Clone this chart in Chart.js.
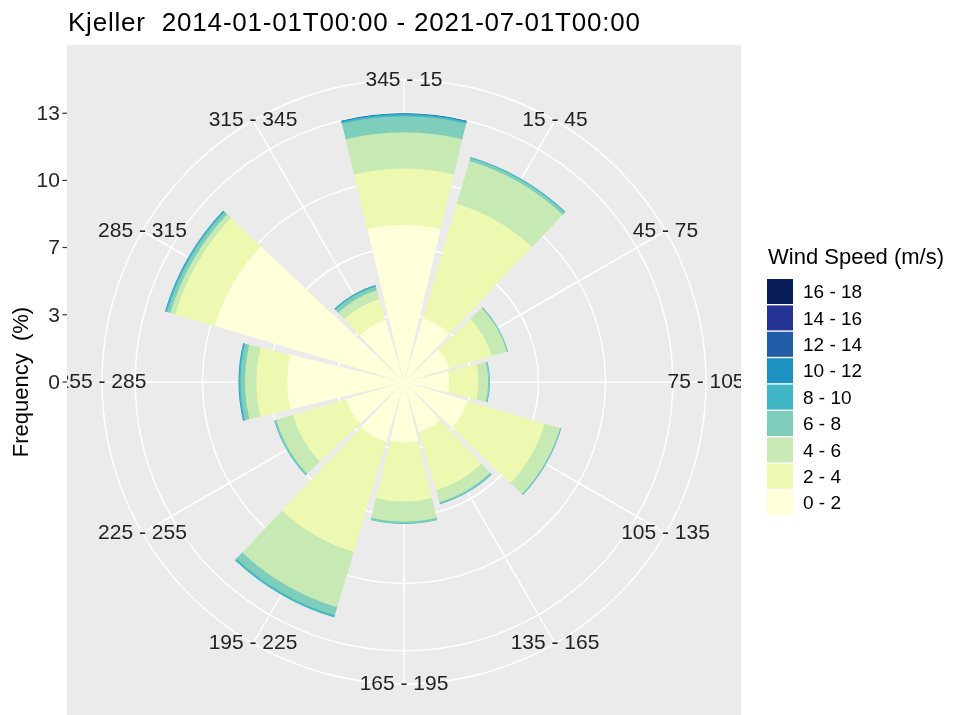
<!DOCTYPE html>
<html>
<head>
<meta charset="utf-8">
<title>Kjeller wind rose</title>
<script src="https://cdn.jsdelivr.net/npm/chart.js@4.4.1/dist/chart.umd.min.js"></script>
<style>
  html, body { margin: 0; padding: 0; background: #ffffff; }
  canvas { display: block; }
</style>
</head>
<body>
<canvas id="rose" width="954" height="715"></canvas>
<script>
// direction sectors, clockwise from north
const directions = ["345 - 15", "15 - 45", "45 - 75", "75 - 105", "105 - 135", "135 - 165",
                    "165 - 195", "195 - 225", "225 - 255", "255 - 285", "285 - 315", "315 - 345"];
const speedBins = ["0 - 2", "2 - 4", "4 - 6", "6 - 8", "8 - 10", "10 - 12", "12 - 14", "14 - 16", "16 - 18"];
const binColors = ["#FFFFD9", "#EDF8B1", "#C7E9B4", "#7FCDBB", "#41B6C4", "#1D91C0", "#225EA8", "#253494", "#081D58"];

// frequency (%) per direction, one array per speed bin
const freq0to2   = [7.80, 3.30, 2.35, 2.25, 3.30, 2.60, 3.00, 3.10, 3.00, 5.80, 9.80, 3.20];
const freq2to4   = [2.80, 5.94, 2.20, 1.45, 3.99, 3.00, 2.94, 5.70, 2.76, 1.53, 2.05, 1.10];
const freq4to6   = [1.80, 2.21, 0.78, 0.48, 0.79, 0.62, 1.00, 2.87, 0.86, 0.57, 0.25, 0.45];
const freq6to8   = [0.80, 0.15, 0.05, 0.07, 0.05, 0.08, 0.09, 0.43, 0.08, 0.22, 0.18, 0.20];
const freq8to10  = [0.10, 0.05, 0.01, 0.02, 0.02, 0.03, 0.02, 0.10, 0.03, 0.08, 0.08, 0.05];
const freq10to12 = [0.03, 0.00, 0.00, 0.00, 0.00, 0.00, 0.00, 0.00, 0.00, 0.02, 0.02, 0.02];
const freq12to14 = [0.02, 0.00, 0.00, 0.00, 0.00, 0.00, 0.00, 0.00, 0.00, 0.00, 0.00, 0.00];
const freq14to16 = [0.00, 0.00, 0.00, 0.00, 0.00, 0.00, 0.00, 0.00, 0.00, 0.00, 0.00, 0.00];
const freq16to18 = [0.00, 0.00, 0.00, 0.00, 0.00, 0.00, 0.00, 0.00, 0.00, 0.00, 0.00, 0.00];

// radial axis
const freqTicks = [0, 3.34, 6.68, 10.01, 13.35];
const freqTickLabels = ["0", "3", "7", "10", "13"];
const freqMax = 15;

const binSeries = [freq0to2, freq2to4, freq4to6, freq6to8, freq8to10, freq10to12, freq12to14, freq14to16, freq16to18];

// polar area whose arcs start at a base value (stacked rings)
class StackedRoseController extends Chart.PolarAreaController {
  updateElements(arcs, start, count, mode) {
    super.updateElements(arcs, start, count, mode);
    const scale = this._cachedMeta.rScale;
    const ds = this.getDataset();
    if (!ds.base) return;
    for (let i = start; i < start + count; i++) {
      if (!ds.data[i]) continue;
      // small overlap under the ring above so no seam shows
      const r0 = scale.getDistanceFromCenterForValue(ds.base[i]);
      arcs[i].innerRadius = Math.max(0, r0 - 1.5);
    }
  }
}
StackedRoseController.id = 'stackedRose';
StackedRoseController.defaults = Chart.PolarAreaController.defaults;
StackedRoseController.overrides = Chart.PolarAreaController.overrides;
Chart.register(StackedRoseController);

// each sector is 27 deg wide with a 3 deg gap; the north sector is split in two halves
const WEDGE = 27, GAP = 3;
function toSlices(vals) {
  const out = [vals[0]];
  for (let d = 1; d < vals.length; d++) out.push(0, vals[d]);
  out.push(0, vals[0]);
  return out;
}
const sliceAngles = [WEDGE / 2];
for (let d = 1; d < directions.length; d++) sliceAngles.push(GAP, WEDGE);
sliceAngles.push(GAP, WEDGE / 2);

const datasets = [];
let running = directions.map(() => 0);
binSeries.forEach((vals, k) => {
  const base = running;
  running = running.map((v, i) => v + vals[i]);
  datasets.push({
    label: speedBins[k],
    data: toSlices(running.map((v, i) => vals[i] > 0 ? v : 0)),
    base: toSlices(base),
    backgroundColor: binColors[k],
    borderWidth: 0,
    angle: (c) => sliceAngles[c.dataIndex]
  });
});

const FONT = '"Liberation Sans", Arial, sans-serif';

const roseDecor = {
  id: 'roseDecor',
  beforeDraw(chart) {
    const r = chart.scales.r;
    const ctx = chart.ctx;
    const half = r.drawingArea / 0.9 + 1.5;
    ctx.save();
    ctx.fillStyle = '#EBEBEB';
    ctx.fillRect(r.xCenter - half, r.yCenter - half, half * 2, half * 2);
    ctx.restore();
  },
  afterDraw(chart) {
    const r = chart.scales.r;
    const ctx = chart.ctx;
    const half = r.drawingArea / 0.9 + 1.5;
    const pL = r.xCenter - half, pT = r.yCenter - half;

    // direction labels, centred on the outer circle, clipped to the panel
    ctx.save();
    ctx.beginPath();
    ctx.rect(pL, pT, half * 2, half * 2);
    ctx.clip();
    ctx.font = '21px ' + FONT;
    ctx.fillStyle = '#222222';
    ctx.textAlign = 'center';
    ctx.textBaseline = 'middle';
    directions.forEach((lab, i) => {
      const p = r.getPointPosition(i, r.drawingArea);
      ctx.fillText(lab, p.x, p.y);
    });
    ctx.restore();

    // left frequency axis
    ctx.save();
    ctx.strokeStyle = '#333333';
    ctx.lineWidth = 1.2;
    ctx.fillStyle = '#262626';
    ctx.font = '21px ' + FONT;
    ctx.textAlign = 'right';
    ctx.textBaseline = 'middle';
    freqTicks.forEach((v, i) => {
      const y = r.yCenter - r.getDistanceFromCenterForValue(v);
      ctx.beginPath();
      ctx.moveTo(pL - 4.5, y);
      ctx.lineTo(pL, y);
      ctx.stroke();
      ctx.fillText(freqTickLabels[i], pL - 7, y + 1);
    });
    ctx.translate(22, r.yCenter);
    ctx.rotate(-Math.PI / 2);
    ctx.textAlign = 'center';
    ctx.fillStyle = '#000000';
    ctx.font = '22px ' + FONT;
    ctx.fillText('Frequency  (%)', 0, 0);
    ctx.restore();

    // title
    ctx.save();
    ctx.font = '26px ' + FONT;
    ctx.fillStyle = '#000000';
    ctx.textAlign = 'left';
    ctx.textBaseline = 'alphabetic';
    if ('letterSpacing' in ctx) ctx.letterSpacing = '0.8px';
    ctx.fillText('Kjeller  2014-01-01T00:00 - 2021-07-01T00:00', pL + 1, 31);
    ctx.restore();

    // legend
    ctx.save();
    ctx.fillStyle = '#000000';
    ctx.font = '22px ' + FONT;
    ctx.textAlign = 'left';
    ctx.textBaseline = 'middle';
    ctx.fillText('Wind Speed (m/s)', 768, 258);
    ctx.font = '19px ' + FONT;
    for (let i = 0; i < speedBins.length; i++) {
      const k = speedBins.length - 1 - i;
      const y = 279 + i * 26.4;
      ctx.fillStyle = binColors[k];
      ctx.fillRect(767, y, 26, 25);
      ctx.fillStyle = '#000000';
      ctx.fillText(speedBins[k], 803, y + 14);
    }
    ctx.restore();
  }
};

new Chart(document.getElementById('rose'), {
  type: 'stackedRose',
  data: { labels: directions, datasets: datasets },
  options: {
    responsive: false,
    animation: false,
    events: [],
    layout: { padding: { left: 102, top: 80, right: 248, bottom: 31 } },
    plugins: {
      legend: { display: false },
      title: { display: false },
      tooltip: { enabled: false }
    },
    scales: {
      r: {
        type: 'radialLinear',
        min: 0,
        max: freqMax,
        startAngle: 0,
        afterBuildTicks: (scale) => {
          scale.ticks = freqTicks.concat([freqMax]).map(v => ({ value: v }));
        },
        ticks: { display: false },
        pointLabels: { display: false },
        grid: { circular: true, color: '#FFFFFF', lineWidth: 1.5 },
        angleLines: { display: true, color: '#FFFFFF', lineWidth: 1.5 }
      }
    }
  },
  plugins: [roseDecor]
});
</script>
</body>
</html>
